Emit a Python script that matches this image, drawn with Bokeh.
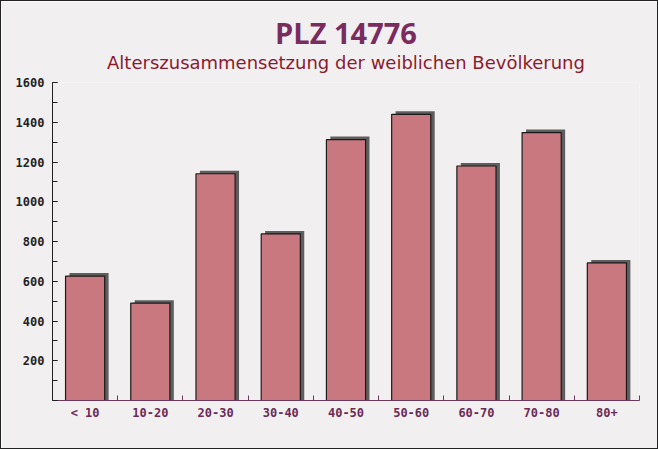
from bokeh.plotting import figure
from bokeh.models import Range1d, FixedTicker, Title, ColumnDataSource
from bokeh.embed import file_html
from bokeh.resources import INLINE

categories = ["< 10", "10-20", "20-30", "30-40", "40-50", "50-60", "60-70", "70-80", "80+"]
values = [626, 490, 1141, 838, 1313, 1440, 1180, 1348, 692]
y_ticks = [0, 200, 400, 600, 800, 1000, 1200, 1400, 1600]

n = len(categories)
centers = [i + 0.5 for i in range(n)]
bw = 0.6
src = ColumnDataSource(dict(
    left=[c - bw / 2 for c in centers],
    right=[c + bw / 2 for c in centers],
    sl=[c - bw / 2 + 0.06 for c in centers],
    sr=[c + bw / 2 + 0.06 for c in centers],
    top=values,
    stop=[v + 15 for v in values],
))

p = figure(width=658, height=449, output_backend="svg", toolbar_location=None,
           x_range=Range1d(0, n), y_range=Range1d(0, 1600),
           min_border_left=51, min_border_right=20, min_border_top=81, min_border_bottom=50)
p.background_fill_color = "#f2eff1"
p.border_fill_color = "#f2eff1"
p.outline_line_color = None
p.grid.visible = False
p.styles = {"border": "1px solid #222", "box-sizing": "border-box"}

sub = Title(text="Alterszusammensetzung der weiblichen Bevölkerung", align="center",
            text_font="DejaVu Sans", text_font_size="18px", text_font_style="normal",
            text_color="#8b1a2e", standoff=20)
main = Title(text="PLZ 14776", align="center", text_font="Open Sans",
             text_font_size="29px", text_font_style="bold", text_color="#7a2c5e",
             standoff=-25)
p.add_layout(sub, "above")
p.add_layout(main, "above")

p.quad(left="sl", right="sr", bottom=0, top="stop", source=src,
       fill_color="#5e5e5e", line_color=None)
p.quad(left="left", right="right", bottom=0, top="top", source=src,
       fill_color="#c9787f", line_color="#1a1a1a", line_width=1.2)

xa = p.xaxis[0]
xa.ticker = FixedTicker(ticks=centers, minor_ticks=list(range(1, n + 1)))
xa.major_label_overrides = {c: cat for c, cat in zip(centers, categories)}
xa.major_tick_in = 0
xa.major_tick_out = 0
xa.minor_tick_in = 5
xa.minor_tick_out = 0
xa.minor_tick_line_color = "#6b3a5a"
xa.axis_line_color = "#6b3a5a"
xa.major_label_text_font = "DejaVu Sans Mono"
xa.major_label_text_font_style = "bold"
xa.major_label_text_font_size = "12px"
xa.major_label_text_color = "#6b2a56"
xa.major_label_standoff = 5

ya = p.yaxis[0]
ya.ticker = FixedTicker(ticks=y_ticks, minor_ticks=list(range(0, 1700, 100)))
ya.major_label_overrides = {0: ""}
ya.major_tick_in = 5
ya.major_tick_out = 0
ya.minor_tick_in = 5
ya.minor_tick_out = 0
ya.axis_line_color = "#222222"
ya.major_tick_line_color = "#222222"
ya.minor_tick_line_color = "#222222"
ya.major_label_text_font = "DejaVu Sans Mono"
ya.major_label_text_font_style = "bold"
ya.major_label_text_font_size = "12px"
ya.major_label_text_color = "#222222"
ya.major_label_standoff = 8

open("out.html", "w").write(file_html(p, INLINE))
